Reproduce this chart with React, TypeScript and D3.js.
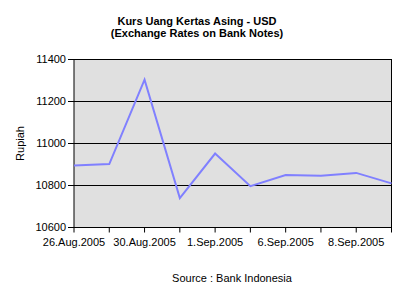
import React from "react";
import * as d3 from "d3";

const categories = ["26.Aug.2005","29.Aug.2005","30.Aug.2005","31.Aug.2005","1.Sep.2005","2.Sep.2005","6.Sep.2005","7.Sep.2005","8.Sep.2005","9.Sep.2005"];
const rates = [10895, 10902, 11304, 10740, 10952, 10797, 10850, 10846, 10860, 10810];
const yTicks = [10600, 10800, 11000, 11200, 11400];
const labelIdx = [0, 2, 4, 6, 8];

export default function App() {
  const W = 400, H = 300;
  const left = 74, right = 391.5, top = 59.5, bottom = 227.5;
  const x = d3.scalePoint<string>().domain(categories).range([left, right]);
  const y = d3.scaleLinear().domain([10600, 11400]).range([bottom, top]);
  const line = d3.line<number>().x((_, i) => x(categories[i])!).y(d => y(d));
  const font = "'Liberation Sans', Arial, sans-serif";
  return (
    <svg width={W} height={H} style={{ position: "absolute", left: 0, top: 0 }} fontFamily={font}>
      <rect x={0} y={0} width={W} height={H} fill="#fff" />
      <text x={197} y={24.5} textAnchor="middle" fontSize={11} fontWeight="bold">Kurs Uang Kertas Asing - USD</text>
      <text x={197} y={37} textAnchor="middle" fontSize={11} fontWeight="bold">(Exchange Rates on Bank Notes)</text>
      <rect x={left} y={top} width={right - left} height={bottom - top} fill="#E0E0E0" stroke="#000" strokeWidth={1} />
      {yTicks.map(t => (
        <g key={t}>
          {t > 10600 && t < 11400 && <line x1={left} x2={right} y1={y(t)} y2={y(t)} stroke="#000" strokeWidth={1} />}
          <line x1={left - 6} x2={left} y1={y(t)} y2={y(t)} stroke="#000" />
          <text x={left - 8} y={y(t)} dy="0.35em" textAnchor="end" fontSize={11}>{t}</text>
        </g>
      ))}
      {categories.map(c => (
        <line key={c} x1={x(c)} x2={x(c)} y1={bottom} y2={bottom + 5} stroke="#000" />
      ))}
      {labelIdx.map(i => (
        <text key={i} x={x(categories[i])} y={bottom + 18.5} textAnchor="middle" fontSize={11}>{categories[i]}</text>
      ))}
      <path d={line(rates)!} fill="none" stroke="#8080FF" strokeWidth={2} />
      <text transform={`translate(24,${(top + bottom) / 2}) rotate(-90)`} textAnchor="middle" fontSize={11}>Rupiah</text>
      <text x={232} y={282} textAnchor="middle" fontSize={11}>Source : Bank Indonesia</text>
    </svg>
  );
}
